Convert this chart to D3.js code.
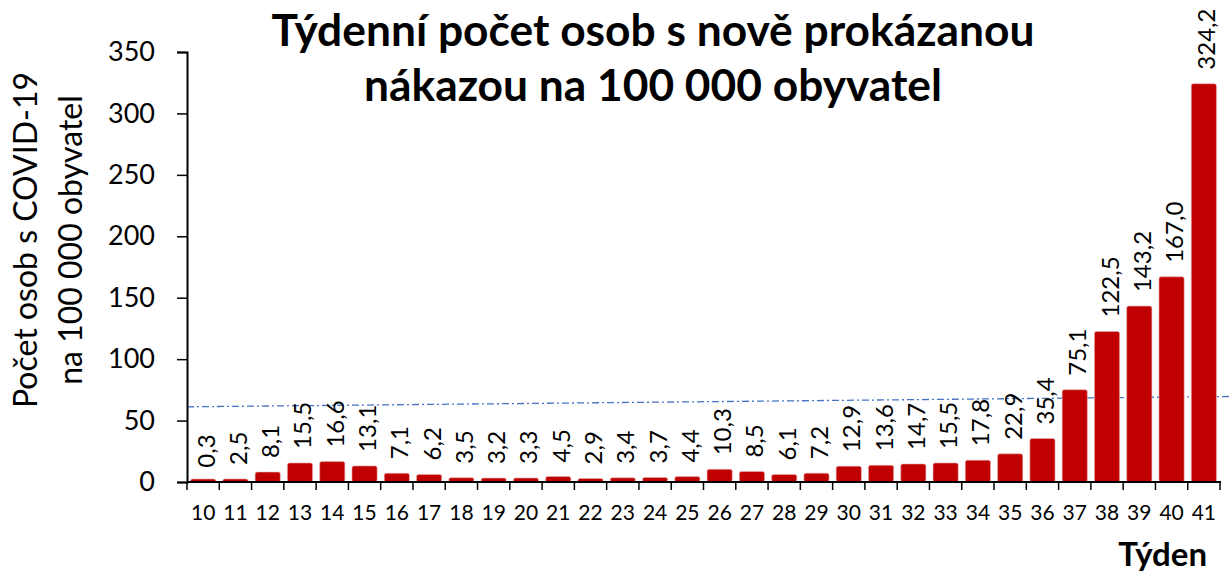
<!DOCTYPE html>
<html>
<head>
<meta charset="utf-8">
<script src="https://cdn.jsdelivr.net/npm/d3@7"></script>
<style>
  html, body { margin: 0; padding: 0; background: #fff; }
  svg { display: block; }
  text { font-family: Lato, "Open Sans", sans-serif; fill: #000; }
</style>
</head>
<body>
<svg id="chart" width="1232" height="574"></svg>
<script>
// ---- data ----
const weeks = ["10","11","12","13","14","15","16","17","18","19","20","21","22","23","24","25","26","27","28","29","30","31","32","33","34","35","36","37","38","39","40","41"];
const values = [0.3,2.5,8.1,15.5,16.6,13.1,7.1,6.2,3.5,3.2,3.3,4.5,2.9,3.4,3.7,4.4,10.3,8.5,6.1,7.2,12.9,13.6,14.7,15.5,17.8,22.9,35.4,75.1,122.5,143.2,167.0,324.2];
const yTicks = [0,50,100,150,200,250,300,350];
const refLine = [61.2, 69.6]; // reference line value at left and right ends
const titleLines = ["Týdenní počet osob s nově prokázanou", "nákazou na 100 000 obyvatel"];
const yLabelLines = ["Počet osob s COVID-19", "na 100 000 obyvatel"];
const xLabel = "Týden";

// ---- layout ----
const W = 1232, H = 574;
const plot = { left: 187, right: 1220, top: 52, bottom: 482 };
const svg = d3.select("#chart");

const x = d3.scaleBand().domain(weeks).range([plot.left, plot.right]).paddingInner(0.22).paddingOuter(0.11);
const y = d3.scaleLinear().domain([0, 350]).range([plot.bottom, plot.top]);
const fmt = v => d3.format(".1f")(v).replace(".", ",");

// reference line (dash-dot)
svg.append("line")
  .attr("x1", plot.left).attr("x2", W)
  .attr("y1", y(refLine[0])).attr("y2", y(refLine[1]))
  .attr("stroke", "#4472C4").attr("stroke-width", 1.3)
  .attr("stroke-dasharray", "7,3,2,3");

// bars
svg.append("g").selectAll("rect").data(values).join("rect")
  .attr("x", (d, i) => x(weeks[i]))
  .attr("width", x.bandwidth())
  .attr("y", d => Math.min(y(d), plot.bottom - 3))
  .attr("height", d => plot.bottom - Math.min(y(d), plot.bottom - 3))
  .attr("rx", 2)
  .attr("fill", "#C00000")
  .attr("stroke", "#e9b0b0").attr("stroke-width", 0.6);

// data labels
svg.append("g").selectAll("text").data(values).join("text")
  .attr("transform", (d, i) => `translate(${x(weeks[i]) + x.bandwidth() / 2 + 11.5},${y(d) - 14}) rotate(-90)`)
  .attr("text-anchor", "start")
  .style("font-size", "24px")
  .text(d => fmt(d));

// y axis
const yAxis = d3.axisLeft(y).tickValues(yTicks).tickSize(10).tickPadding(22).tickFormat(d3.format("d"));
const gy = svg.append("g").attr("transform", `translate(${plot.left},0)`).call(yAxis);
gy.select(".domain").attr("stroke", "#000").attr("stroke-width", 2);
gy.selectAll(".tick line").attr("stroke", "#000").attr("stroke-width", 1.5);
gy.selectAll(".tick text").style("font-size", "27px").style("font-family", "Lato").attr("fill", "#000");

// x axis line + boundary ticks
const step = x.step();
const boundaries = weeks.map(w => x(w) - step * x.paddingInner() / 2).concat([x(weeks[weeks.length - 1]) + x.bandwidth() + step * x.paddingInner() / 2]);
svg.append("line").attr("x1", plot.left).attr("x2", plot.right + 1).attr("y1", plot.bottom).attr("y2", plot.bottom)
  .attr("stroke", "#000").attr("stroke-width", 2);
svg.append("g").selectAll("line").data(boundaries).join("line")
  .attr("x1", d => d).attr("x2", d => d)
  .attr("y1", plot.bottom).attr("y2", plot.bottom + 8)
  .attr("stroke", "#000").attr("stroke-width", 1.5);
svg.append("g").selectAll("text").data(weeks).join("text")
  .attr("x", d => x(d) + x.bandwidth() / 2)
  .attr("y", 520)
  .attr("text-anchor", "middle")
  .style("font-size", "21px")
  .text(d => d);

// x label
svg.append("text").attr("x", 1207).attr("y", 566).attr("text-anchor", "end")
  .style("font-size", "33px").style("font-weight", "bold").text(xLabel);

// y label
const yl = svg.append("g").attr("transform", "translate(0,240)");
yLabelLines.forEach((t, i) => {
  yl.append("text").attr("transform", `translate(${[37, 82][i]},0) rotate(-90)`)
    .attr("text-anchor", "middle").style("font-size", "32px").text(t);
});

// title (fitted to the reference width)
const tl = svg.append("g");
const t1 = tl.append("text").attr("x", 653).attr("y", 46).attr("text-anchor", "middle")
  .style("font-size", "36px").style("font-weight", "bold").text(titleLines[0]);
const w1 = t1.node().getComputedTextLength();
const fs = 36 * 763 / w1;
t1.style("font-size", fs + "px");
tl.append("text").attr("x", 653).attr("y", 101).attr("text-anchor", "middle")
  .style("font-size", fs + "px").style("font-weight", "bold").text(titleLines[1]);
</script>
</body>
</html>
